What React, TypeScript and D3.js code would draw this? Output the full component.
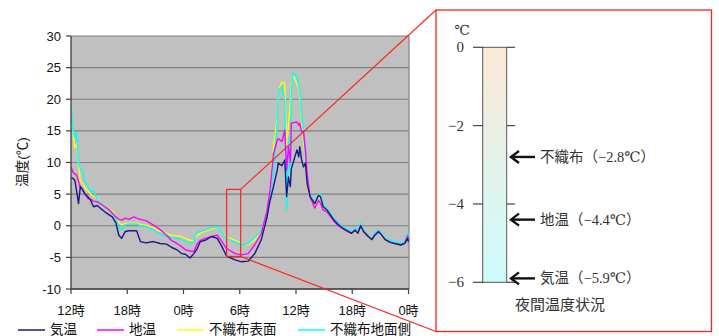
import React from "react";
import * as d3 from "d3";

// ---- data ----
const hours = [0, 0.2, 0.4, 0.6, 0.8, 1.0, 1.2, 1.5, 1.8, 2.1, 2.4, 2.8, 3.2, 3.6, 4.0, 4.4, 4.8, 5.1, 5.4, 5.8, 6.2, 6.7, 7.0, 7.4, 8.0, 8.8, 9.5, 10.2, 10.7, 11.3, 11.8, 12.2, 12.7, 13.1, 13.4, 13.8, 14.3, 15.0, 15.6, 16.1, 16.6, 17.5, 18.2, 18.9, 19.6, 20.3, 20.9, 21.2, 21.6, 22.0, 22.1, 22.5, 22.8, 23.0, 23.2, 23.4, 23.5, 23.7, 24.1, 24.3, 24.4, 24.6, 24.8, 25.0, 25.2, 25.5, 26.0, 26.4, 26.6, 26.9, 27.3, 28.0, 28.5, 29.0, 29.6, 29.9, 30.3, 30.6, 30.9, 31.2, 31.7, 32.1, 32.4, 32.8, 33.1, 33.5, 34.0, 34.5, 35.2, 35.6, 35.9, 36.0];

const airTemp = [7.5, 7.5, 7.2, 5.5, 3.5, 6.2, 5.8, 5.0, 4.6, 4.0, 3.0, 3.2, 2.7, 2.2, 1.8, 1.4, 0.4, -1.5, -2.0, -0.9, -0.8, -0.8, -0.8, -2.5, -2.7, -2.5, -2.8, -2.9, -3.4, -3.8, -4.4, -4.5, -5.1, -4.4, -3.8, -2.5, -2.3, -1.7, -2.0, -3.3, -4.8, -5.4, -5.7, -5.6, -4.4, -2.2, 1.3, 3.8, 6.2, 8.8, 9.9, 9.5, 10.4, 4.6, 7.7, 6.2, 9.0, 10.0, 12.0, 10.9, 12.5, 10.4, 9.3, 9.9, 6.5, 4.6, 3.5, 4.8, 4.6, 3.0, 2.5, 1.0, 0.2, -0.4, -0.9, -1.2, -0.7, -1.2, 0.0, -0.9, -1.7, -2.2, -1.5, -0.9, -1.4, -2.2, -2.6, -2.8, -3.0, -2.8, -2.0, -2.6];

const soilTemp = [9.3, 8.5, 8.2, 8.0, 7.0, 6.0, 5.8, 5.0, 4.3, 4.2, 3.9, 3.8, 3.4, 3.0, 2.6, 2.0, 1.4, 1.0, 0.9, 1.2, 1.0, 1.4, 1.2, 1.0, 0.8, 0.1, -0.6, -1.5, -2.3, -2.8, -3.3, -3.8, -4.0, -4.1, -3.0, -2.3, -2.0, -1.7, -1.5, -2.5, -3.6, -4.4, -4.6, -4.4, -3.0, -1.2, 2.3, 5.3, 11.4, 13.5, 13.8, 13.3, 15.1, 8.8, 12.5, 10.0, 16.2, 16.3, 16.4, 15.9, 16.2, 14.8, 15.0, 12.0, 8.0, 4.6, 2.8, 4.0, 3.6, 2.5, 2.2, 0.8, 0.0, -0.5, -1.0, -1.2, -0.7, -1.2, 0.0, -0.9, -1.7, -2.2, -1.5, -1.0, -1.4, -2.2, -2.6, -2.8, -3.1, -2.8, -1.6, -2.3];

const coverSurface = [16.0, 15.0, 12.3, 13.0, 10.0, 7.0, 6.8, 6.0, 5.5, 5.0, 4.6, 4.4, 3.3, 3.0, 2.6, 2.3, 1.5, 0.6, 0.1, 0.4, 0.4, 0.4, 0.4, 0.2, 0.1, -0.3, -0.9, -1.2, -1.5, -1.6, -1.7, -2.0, -2.3, -2.4, -1.6, -1.2, -0.9, -0.5, -0.3, -1.2, -1.8, -2.3, -2.9, -3.0, -2.2, -1.0, 1.4, 5.1, 12.5, 17.2, 21.4, 22.7, 22.5, 12.5, 16.0, 19.5, 22.0, 23.8, 22.5, 21.5, 20.4, 16.7, 13.5, 10.4, 6.2, 4.6, 3.3, 4.6, 4.5, 2.9, 2.5, 0.9, 0.1, -0.5, -1.0, -1.3, -0.8, -1.3, -0.2, -1.0, -1.8, -2.3, -1.5, -1.0, -1.5, -2.3, -2.6, -2.9, -3.1, -2.9, -1.8, -2.5];

const coverGround = [19.0, 15.1, 14.0, 14.6, 9.9, 9.0, 8.8, 7.0, 6.2, 5.4, 5.5, 4.2, 3.5, 3.0, 2.5, 2.0, 1.0, -0.3, -0.6, 0.2, 0.3, 0.3, 0.3, 0.0, -0.2, -0.6, -1.3, -1.7, -1.9, -2.0, -2.2, -2.5, -2.7, -2.6, -1.0, -0.9, -0.7, -0.3, -0.2, -1.2, -2.0, -2.6, -3.0, -2.8, -1.8, -0.8, 2.0, 4.5, 8.5, 16.5, 21.4, 22.0, 19.9, 2.5, 14.0, 8.0, 20.9, 24.3, 23.5, 22.0, 20.9, 17.5, 15.1, 10.9, 6.8, 5.0, 3.6, 4.9, 5.0, 3.3, 2.7, 1.2, 0.4, -0.2, -0.7, -0.9, -0.4, -0.9, 0.4, -0.7, -1.5, -2.0, -1.2, -0.7, -1.2, -2.0, -2.3, -2.5, -2.8, -2.5, -1.2, -1.5];

const seriesNames = ["気温", "地温", "不織布表面", "不織布地面側"];
const seriesColors = ["#1a1a80", "#ff00ff", "#ffff00", "#00ffff"];
const seriesValues = [airTemp, soilTemp, coverSurface, coverGround];
const drawOrder = [2, 3, 1, 0];

const yTicks = [-10, -5, 0, 5, 10, 15, 20, 25, 30];
const xTickHours = [0, 6, 12, 18, 24, 30, 36];
const xTickLabels = ["12時", "18時", "0時", "6時", "12時", "18時", "0時"];

// zoom box (hours, °C)
const zoomHours = [16.6, 18.1];
const zoomTemps = [5.75, -4.85];

// night panel
const nightTicks = [0, -2, -4, -6];
const nightNames = ["不織布", "地温", "気温"];
const nightValues = [-2.8, -4.4, -5.9];

export default function App() {
  const W = 719, H = 336;
  const x = d3.scaleLinear().domain([0, 36]).range([71, 408.5]);
  const y = d3.scaleLinear().domain([-10, 30]).range([289, 36]);
  const line = d3.line<number>().x((_, i) => x(hours[i])).y((v) => y(v));

  const ny = d3.scaleLinear().domain([0, -6]).range([47.3, 282.3]);
  const fmt = (v: number) => (v < 0 ? "−" + Math.abs(v) : String(v));
  const fmt1 = (v: number) => "−" + Math.abs(v).toFixed(1);

  const zx0 = x(zoomHours[0]), zx1 = x(zoomHours[1]);
  const zy0 = y(zoomTemps[0]), zy1 = y(zoomTemps[1]);
  const panel = { x0: 436, y0: 10, x1: 711.5, y1: 331.5 };

  const sans = "'Liberation Sans', Arial, 'Noto Sans CJK JP', sans-serif";
  const serif = "'Liberation Serif', 'DejaVu Serif', 'Noto Sans CJK JP', serif";

  const legendX = [18, 97, 177, 298];

  return (
    <svg width={W} height={H} style={{ position: "absolute", left: 0, top: 0, background: "#fff" }}>
      <defs>
        <linearGradient id="thermo" x1="0" y1="0" x2="0" y2="1">
          <stop offset="0%" stopColor="#fde8d6" />
          <stop offset="50%" stopColor="#e2f3ea" />
          <stop offset="100%" stopColor="#ccfcfc" />
        </linearGradient>
        <clipPath id="plotclip">
          <rect x={71} y={36} width={338} height={253} />
        </clipPath>
      </defs>

      {/* plot area */}
      <rect x={71} y={36} width={338} height={253} fill="#c0c0c0" />
      {yTicks.map((t) => (
        <line key={t} x1={71} x2={409} y1={y(t)} y2={y(t)} stroke="#808080" strokeWidth={1.2} />
      ))}
      <line x1={409} x2={409} y1={36} y2={289} stroke="#808080" strokeWidth={1.2} />

      {/* series */}
      <g clipPath="url(#plotclip)">
        {drawOrder.map((si) => (
          <path key={si} d={line(seriesValues[si]) || ""} fill="none" stroke={seriesColors[si]} strokeWidth={1.4} strokeLinejoin="round" />
        ))}
      </g>

      {/* axes */}
      <line x1={71} x2={71} y1={36} y2={289} stroke="#404040" strokeWidth={1.3} />
      <line x1={71} x2={409} y1={289} y2={289} stroke="#404040" strokeWidth={1.3} />
      {yTicks.map((t) => (
        <g key={t}>
          <line x1={66} x2={71} y1={y(t)} y2={y(t)} stroke="#404040" strokeWidth={1.2} />
          <text x={61} y={y(t) + 4.5} textAnchor="end" fontSize={13} fontFamily={sans} fill="#111">
            {t}
          </text>
        </g>
      ))}
      {xTickHours.map((h, i) => (
        <g key={i}>
          <line x1={x(h)} x2={x(h)} y1={289} y2={294} stroke="#404040" strokeWidth={1.2} />
          <text x={x(h)} y={315} textAnchor="middle" fontSize={13} fontFamily={sans} fill="#111">
            {xTickLabels[i]}
          </text>
        </g>
      ))}
      <text transform="translate(27,162) rotate(-90)" textAnchor="middle" fontSize={13.5} fontFamily={sans} fill="#111">
        温度(℃)
      </text>

      {/* legend */}
      {seriesNames.map((n, i) => (
        <g key={n}>
          <line x1={legendX[i]} x2={legendX[i] + 27} y1={330} y2={330} stroke={seriesColors[i]} strokeWidth={1.5} />
          <text x={legendX[i] + 32} y={334} fontSize={13.5} fontFamily={sans} fill="#111">
            {n}
          </text>
        </g>
      ))}

      {/* zoom box and connectors */}
      <rect x={zx0} y={zy0} width={zx1 - zx0} height={zy1 - zy0} fill="none" stroke="#ff2020" strokeWidth={1.2} />
      <line x1={zx1} y1={zy0} x2={panel.x0} y2={panel.y0} stroke="#ff2020" strokeWidth={1.1} />
      <line x1={zx1} y1={zy1} x2={panel.x0} y2={panel.y1} stroke="#ff2020" strokeWidth={1.1} />
      <rect x={panel.x0} y={panel.y0} width={panel.x1 - panel.x0} height={panel.y1 - panel.y0} fill="#fff" stroke="#ff2020" strokeWidth={1.3} />

      {/* thermometer */}
      <text x={462} y={35} textAnchor="middle" fontSize={14} fontFamily={serif} fill="#333">℃</text>
      <rect x={482.7} y={ny(0)} width={24} height={ny(-6) - ny(0)} fill="url(#thermo)" stroke="#555" strokeWidth={1} />
      {nightTicks.map((t) => (
        <g key={t}>
          <line x1={473} x2={483} y1={ny(t)} y2={ny(t)} stroke="#444" strokeWidth={1.2} />
          <line x1={507} x2={515} y1={ny(t)} y2={ny(t)} stroke="#444" strokeWidth={1.2} />
          <text x={464} y={ny(t) + 5} textAnchor="end" fontSize={15} fontFamily={serif} fill="#333">
            {fmt(t)}
          </text>
        </g>
      ))}
      {nightNames.map((n, i) => {
        const yy = ny(nightValues[i]);
        return (
          <g key={n}>
            <line x1={511} x2={535} y1={yy} y2={yy} stroke="#111" strokeWidth={2.4} />
            <path d={`M${519},${yy - 6} L${511},${yy} L${519},${yy + 6}`} fill="none" stroke="#111" strokeWidth={2.4} strokeLinejoin="miter" />
            <text x={540} y={yy + 5} fontSize={14.5} fontFamily={serif} fill="#333">
              {n}（{fmt1(nightValues[i])}℃）
            </text>
          </g>
        );
      })}
      <text x={560} y={310} textAnchor="middle" fontSize={15} fontFamily={serif} fill="#333">夜間温度状況</text>
    </svg>
  );
}
